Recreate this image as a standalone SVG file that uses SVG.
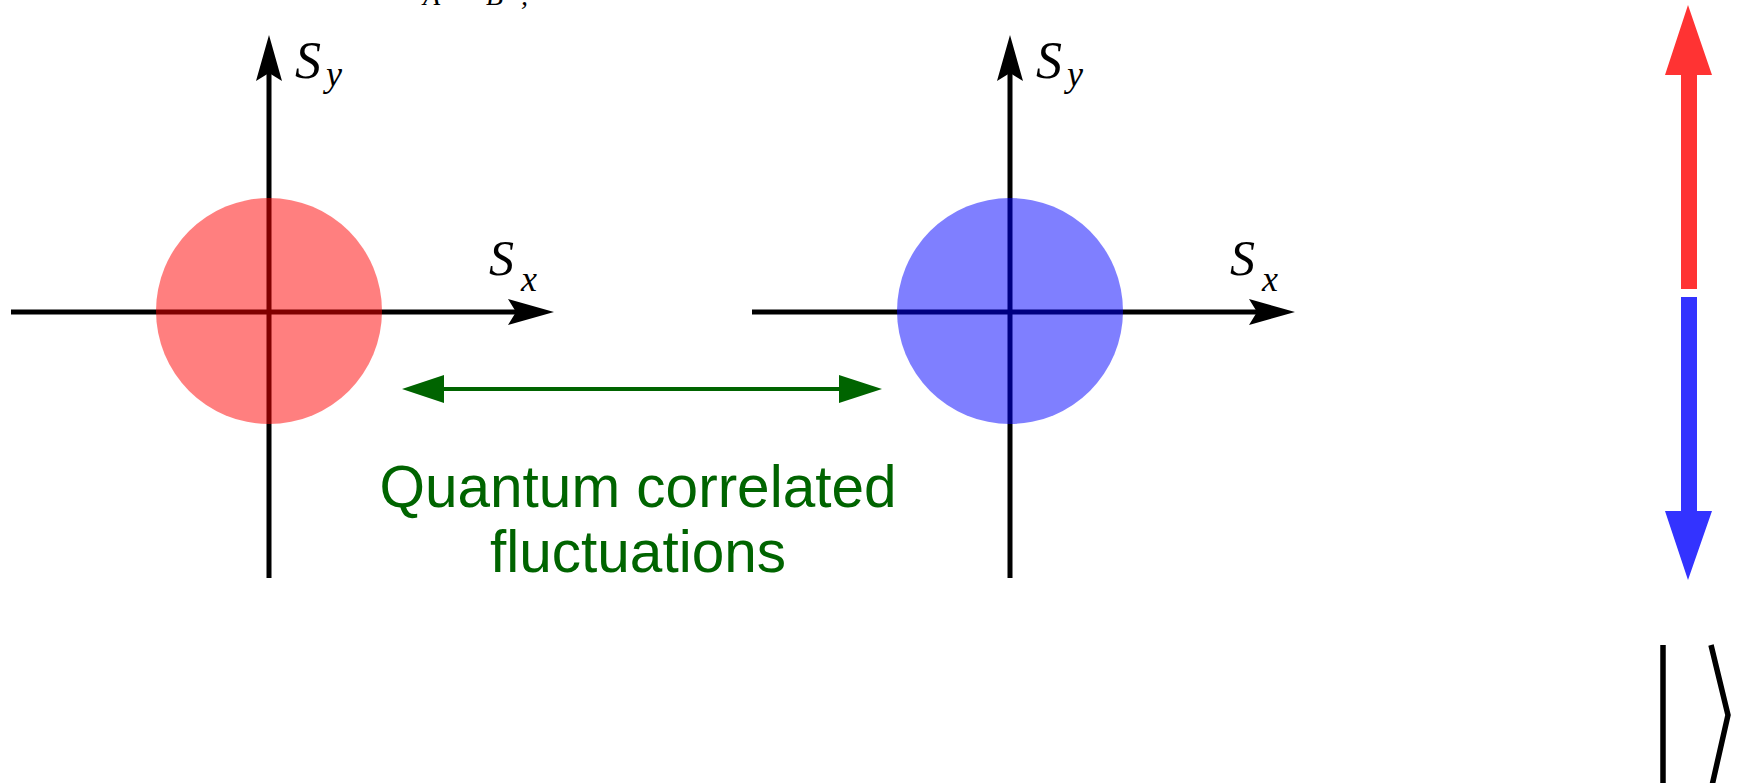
<svg xmlns="http://www.w3.org/2000/svg" width="1738" height="783" viewBox="0 0 1738 783">
<style>
.axis{stroke:#000;stroke-width:5;fill:none}
.head{fill:#000;stroke:none}
.math{font-family:"Liberation Serif","DejaVu Serif",serif;font-style:italic;fill:#000}
.lbl{font-family:"Liberation Sans",Arial,sans-serif;font-size:58.5px;fill:#006400;text-anchor:middle}
.ket{stroke:#000;stroke-width:5.5;fill:none}
</style>
<rect width="1738" height="783" fill="#fff"/>
<g id="title">
<text class="math" x="423" y="5" font-size="28">A</text>
<text class="math" x="486" y="5" font-size="28">B</text>
<text class="math" x="521" y="5" font-size="28">,</text>
</g>
<g id="plotA">
<line class="axis" x1="269" y1="578" x2="269" y2="70"/>
<path class="head" d="M269,35 L282,81 L269,73 L256,81 Z"/>
<line class="axis" x1="11" y1="312" x2="520" y2="312"/>
<path class="head" d="M554,312 L508,299 L516,312 L508,325 Z"/>
<circle cx="269" cy="311" r="113" fill="#ff0000" fill-opacity="0.5"/>
<text class="math" x="295" y="78" font-size="52">S</text>
<text class="math" x="326" y="86" font-size="36">y</text>
<text class="math" x="489" y="275" font-size="50">S</text>
<text class="math" x="521" y="291" font-size="36">x</text>
</g>
<g id="plotB">
<line class="axis" x1="1010" y1="578" x2="1010" y2="70"/>
<path class="head" d="M1010,35 L1023,81 L1010,73 L997,81 Z"/>
<line class="axis" x1="752" y1="312" x2="1261" y2="312"/>
<path class="head" d="M1295,312 L1249,299 L1257,312 L1249,325 Z"/>
<circle cx="1010" cy="311" r="113" fill="#0000ff" fill-opacity="0.5"/>
<text class="math" x="1036" y="78" font-size="52">S</text>
<text class="math" x="1067" y="86" font-size="36">y</text>
<text class="math" x="1230" y="275" font-size="50">S</text>
<text class="math" x="1262" y="291" font-size="36">x</text>
</g>
<g id="connectors">
<line x1="440" y1="389" x2="844" y2="389" stroke="#006400" stroke-width="4"/>
<path d="M402,389 L444,375 L444,403 Z" fill="#006400"/>
<path d="M882,389 L839,375 L839,403 Z" fill="#006400"/>
</g>
<g id="label">
<text class="lbl" x="638" y="507">Quantum correlated</text>
<text class="lbl" x="638" y="572">fluctuations</text>
</g>
<g id="spins">
<path d="M1688,5 L1712,75 L1697,75 L1697,289 L1681,289 L1681,75 L1665,75 Z" fill="#ff3333"/>
<path d="M1681,297 L1697,297 L1697,511 L1712,511 L1688,580 L1665,511 L1681,511 Z" fill="#3333ff"/>
</g>
<g id="ket">
<line class="ket" x1="1663" y1="645" x2="1663" y2="790"/>
<polyline class="ket" points="1711,645 1728,715 1711,790"/>
</g>
</svg>
